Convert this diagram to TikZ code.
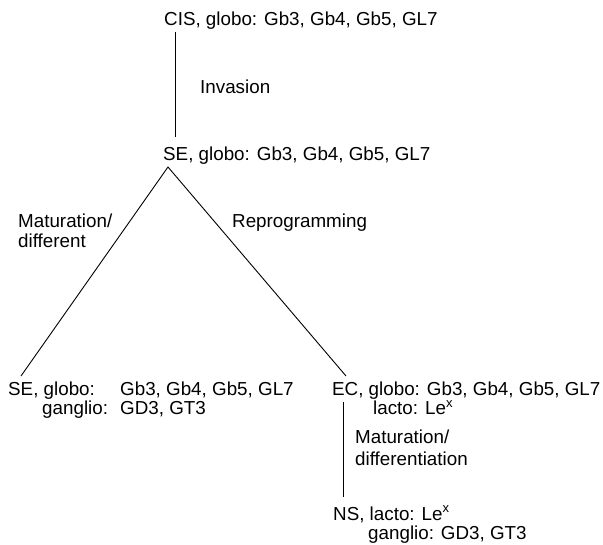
\documentclass[tikz,border=0pt]{standalone}
\usepackage{fontspec}
\setmainfont{Liberation Sans}
\newcommand{\supx}{\raisebox{0.75ex}{\fontsize{13}{13}\selectfont x}}
\begin{document}
\begin{tikzpicture}[x=1pt,y=-1pt,
  lbl/.style={anchor=base west,inner sep=0pt,font=\fontsize{18.8}{22}\selectfont},
  link/.style={draw=black,line width=0.9pt}]
\useasboundingbox (0,0) rectangle (603,545);
% texts
\node[lbl] (cis) at (164,26) {CIS, globo: Gb3, Gb4, Gb5, GL7};
\node[lbl] (inv) at (200,94) {Invasion};
\node[lbl] (se) at (163,161) {SE, globo: Gb3, Gb4, Gb5, GL7};
\node[lbl] (mat1) at (18,228) {Maturation/};
\node[lbl] (dif1) at (18,248) {different};
\node[lbl] (rep) at (232,228) {Reprogramming};
\node[lbl] (se2) at (8,396) {SE, globo:};
\node[lbl] (se2g) at (120,396) {Gb3, Gb4, Gb5, GL7};
\node[lbl] (gang) at (42,415) {ganglio:};
\node[lbl] (gangv) at (120,415) {GD3, GT3};
\node[lbl] (ec) at (332,396) {EC, globo: Gb3, Gb4, Gb5, GL7};
\node[lbl] (lacto) at (373,415) {lacto: Le\supx};
\node[lbl] (mat2) at (355,444) {Maturation/};
\node[lbl] (dif2) at (355,465) {differentiation};
\node[lbl] (ns) at (333,520) {NS, lacto: Le\supx};
\node[lbl] (nsg) at (368,539) {ganglio: GD3, GT3};
% connector ends
\coordinate (c1) at (175.5,32);
\coordinate (c2) at (175.5,137);
\coordinate (peak) at (168,167);
\coordinate (lend) at (21,376);
\coordinate (rend) at (346,376);
\coordinate (v1) at (343,402);
\coordinate (v2) at (343,497);
\draw[link] (c1) -- (c2);
\draw[link] (lend) -- (peak) -- (rend);
\draw[link] (v1) -- (v2);
\end{tikzpicture}
\end{document}
